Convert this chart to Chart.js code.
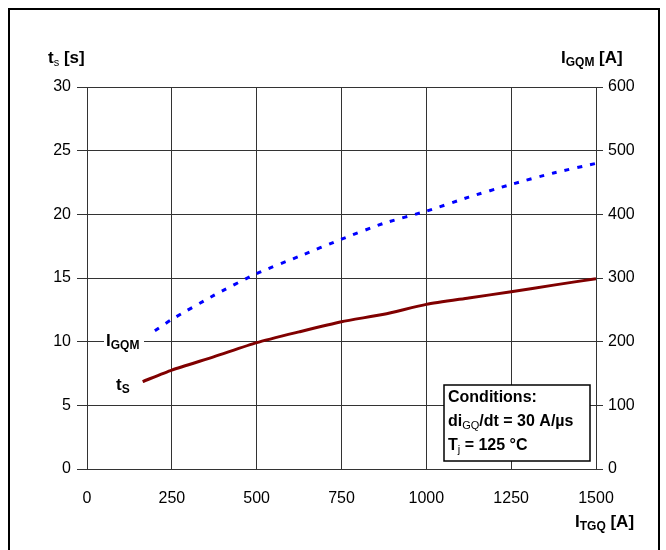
<!DOCTYPE html>
<html>
<head>
<meta charset="utf-8">
<script src="https://cdn.jsdelivr.net/npm/chart.js@4.4.1/dist/chart.umd.min.js"></script>
<style>
  html, body { margin: 0; padding: 0; background: #fff; }
  #wrap { width: 666px; height: 550px; position: relative; }
</style>
</head>
<body>
<div id="wrap"><canvas id="tsChart" width="666" height="550"></canvas></div>
<script>
// x values (I_TGQ [A]) and the two curves
const tsCurrent = [164, 250, 375, 500, 625, 750, 875, 1000, 1125, 1250, 1375, 1500];
const tsValues = [6.86, 7.77, 8.82, 9.92, 10.77, 11.57, 12.15, 12.93, 13.43, 13.92, 14.44, 14.95];
const igqmCurrent = [200, 250, 375, 500, 625, 750, 875, 1000, 1125, 1250, 1375, 1500];
const igqmValues = [217, 235, 273, 307, 334, 361, 386, 405, 427, 447, 465, 480];

const xTicks = [0, 250, 500, 750, 1000, 1250, 1500];
const leftTicks = [0, 5, 10, 15, 20, 25, 30];
const rightTicks = [0, 100, 200, 300, 400, 500, 600];

const FONT = "'Liberation Sans', Arial, sans-serif";

// draws text runs like  t + sub(s) + " [s]"
function drawRich(ctx, x, y, parts) {
    let cx = x;
    parts.forEach(p => {
        ctx.font = (p.bold ? 'bold ' : '') + p.size + 'px ' + FONT;
        ctx.fillText(p.t, cx, y + (p.dy || 0));
        cx += ctx.measureText(p.t).width;
    });
}

const labelsPlugin = {
    id: 'labels',
    afterDatasetsDraw(chart) {
        const ctx = chart.ctx;
        ctx.save();
        ctx.fillStyle = '#000';
        ctx.textBaseline = 'alphabetic';
        ctx.textAlign = 'left';

        // axis titles
        drawRich(ctx, 48, 63, [{t: 't', size: 17, bold: true}, {t: 's', size: 11, bold: false, dy: 3}, {t: ' [s]', size: 17, bold: true}]);
        drawRich(ctx, 561, 63, [{t: 'I', size: 17, bold: true}, {t: 'GQM', size: 12, bold: true, dy: 3}, {t: ' [A]', size: 17, bold: true}]);
        drawRich(ctx, 575, 527, [{t: 'I', size: 17, bold: true}, {t: 'TGQ', size: 12, bold: true, dy: 3}, {t: ' [A]', size: 17, bold: true}]);

        // curve labels
        ctx.fillStyle = '#fff';
        ctx.fillRect(104, 332, 40, 18);
        ctx.fillStyle = '#000';
        drawRich(ctx, 106, 346, [{t: 'I', size: 17, bold: true}, {t: 'GQM', size: 12, bold: true, dy: 3}]);
        drawRich(ctx, 116, 390, [{t: 't', size: 17, bold: true}, {t: 'S', size: 12, bold: true, dy: 3}]);

        // conditions box
        ctx.fillStyle = '#fff';
        ctx.fillRect(444, 385, 146, 76);
        ctx.strokeStyle = '#000';
        ctx.lineWidth = 1.5;
        ctx.strokeRect(444, 385, 146, 76);
        ctx.fillStyle = '#000';
        drawRich(ctx, 448, 402, [{t: 'Conditions:', size: 16, bold: true}]);
        drawRich(ctx, 448, 426, [{t: 'di', size: 16, bold: true}, {t: 'GQ', size: 11, bold: false, dy: 3}, {t: '/dt = 30 A/\u00b5s', size: 16, bold: true}]);
        drawRich(ctx, 448, 450, [{t: 'T', size: 16, bold: true}, {t: 'j', size: 11, bold: false, dy: 3}, {t: ' = 125 \u00b0C', size: 16, bold: true}]);

        // outer frame
        ctx.strokeStyle = '#000';
        ctx.lineWidth = 2;
        ctx.beginPath();
        ctx.moveTo(9, 560);
        ctx.lineTo(9, 9);
        ctx.lineTo(659, 9);
        ctx.lineTo(659, 560);
        ctx.stroke();
        ctx.restore();
    }
};

function toPoints(xs, ys) {
    return xs.map((x, i) => ({x: x, y: ys[i]}));
}

new Chart(document.getElementById('tsChart').getContext('2d'), {
    type: 'line',
    data: {
        datasets: [{
            label: 'ts',
            data: toPoints(tsCurrent, tsValues),
            yAxisID: 'y',
            borderColor: '#800000',
            borderWidth: 3,
            pointRadius: 0,
            tension: 0.2,
            fill: false
        }, {
            label: 'IGQM',
            data: toPoints(igqmCurrent, igqmValues),
            yAxisID: 'y2',
            borderColor: '#0000ff',
            borderWidth: 3,
            borderDash: [5, 8],
            pointRadius: 0,
            tension: 0.2,
            fill: false
        }]
    },
    options: {
        responsive: false,
        animation: false,
        layout: {
            padding: {left: 0, right: 0, top: 87, bottom: 0}
        },
        plugins: {
            legend: {display: false},
            tooltip: {enabled: false}
        },
        scales: {
            x: {
                type: 'linear',
                min: 0,
                max: 1500,
                afterBuildTicks: s => { s.ticks = xTicks.map(v => ({value: v})); },
                afterFit: s => { s.height = 81; },
                grid: {color: '#333', lineWidth: 1, tickLength: 0},
                border: {color: '#333'},
                ticks: {color: '#000', padding: 20, font: {family: FONT, size: 16}, callback: v => String(v)}
            },
            y: {
                position: 'left',
                min: 0,
                max: 30,
                afterBuildTicks: s => { s.ticks = leftTicks.map(v => ({value: v})); },
                afterFit: s => { s.width = 87; },
                grid: {color: '#333', lineWidth: 1, tickLength: 10},
                border: {color: '#333'},
                ticks: {color: '#000', padding: 6, font: {family: FONT, size: 16}, callback: v => String(v)}
            },
            y2: {
                position: 'right',
                min: 0,
                max: 600,
                afterBuildTicks: s => { s.ticks = rightTicks.map(v => ({value: v})); },
                afterFit: s => { s.width = 70; },
                grid: {drawOnChartArea: false, color: '#333', tickLength: 7},
                border: {color: '#333'},
                ticks: {color: '#000', padding: 5, font: {family: FONT, size: 16}, callback: v => String(v)}
            }
        }
    },
    plugins: [labelsPlugin]
});
</script>
</body>
</html>
